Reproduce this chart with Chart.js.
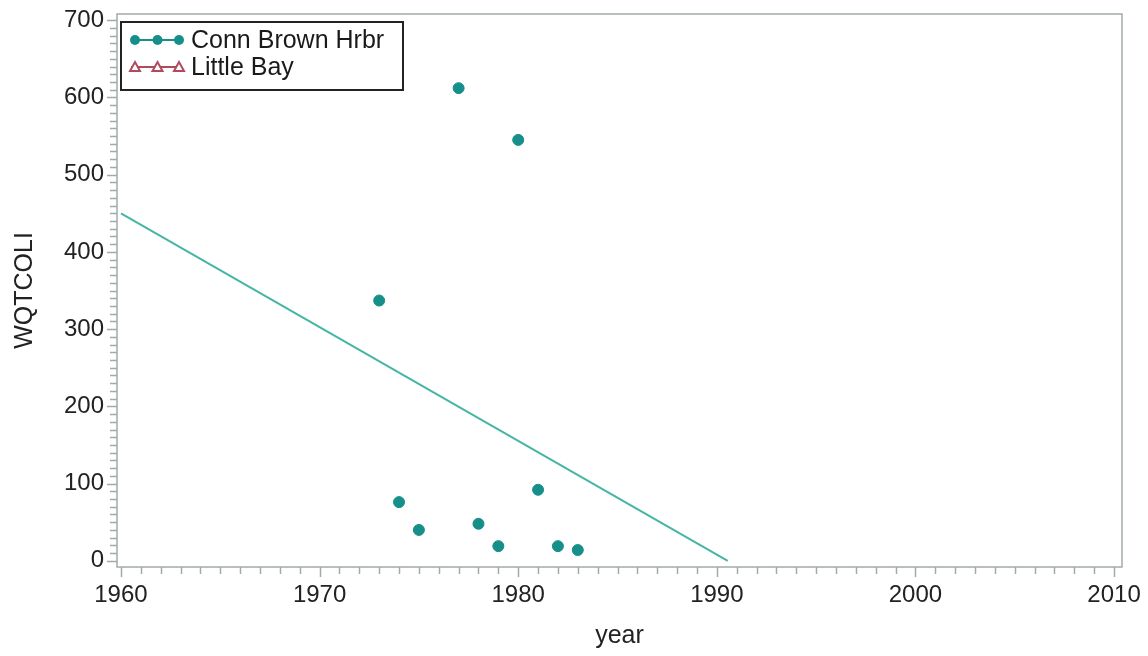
<!DOCTYPE html>
<html><head><meta charset="utf-8">
<script src="https://cdn.jsdelivr.net/npm/chart.js@4/dist/chart.umd.min.js"></script>
<style>html,body{margin:0;padding:0;background:#fff;}#wrap{width:1148px;height:656px;}</style>
</head><body><div id="wrap"><canvas id="c" width="1148" height="656"></canvas></div>
<script>
// ---- data ----
const connBrownYears = [1973, 1974, 1975, 1977, 1978, 1979, 1980, 1981, 1982, 1983];
const connBrownValues = [337, 76, 40, 612, 48, 19, 545, 92, 19, 14];
const littleBayYears = [];
const littleBayValues = [];
const fitYears = [1960, 1990.55];
const fitValues = [450, 0];
const seriesNames = ['Conn Brown Hrbr', 'Little Bay'];
const xMajorTicks = [1960, 1970, 1980, 1990, 2000, 2010];
const yMajorTicks = [0, 100, 200, 300, 400, 500, 600, 700];
const xMinorStep = 1;
const yMinorStep = 10;
const xTitle = 'year';
const yTitle = 'WQTCOLI';

const FONT = "'Liberation Sans', Arial, sans-serif";
const TEAL = '#168f8a';
const FIT = '#45b5a6';
const RED = '#b04a5c';
const AXIS = '#a3aaad';

const toPts = (xs, ys) => xs.map((x, i) => ({x: x, y: ys[i]}));
const noPad = s => { s.paddingTop = 0; s.paddingBottom = 0; s.paddingLeft = 0; s.paddingRight = 0; };

const decorPlugin = {
  id: 'decor',
  afterDraw(chart) {
    const ctx = chart.ctx;
    const a = chart.chartArea;
    const xs = chart.scales.x, ys = chart.scales.y;
    ctx.save();
    // frame
    ctx.strokeStyle = AXIS;
    ctx.lineWidth = 1.5;
    ctx.strokeRect(a.left, a.top, a.right - a.left, a.bottom - a.top);
    // ticks
    ctx.beginPath();
    for (let v = Math.ceil(xs.min); v <= xs.max; v += xMinorStep) {
      const px = Math.round(xs.getPixelForValue(v)) + 0.5;
      const len = xMajorTicks.includes(v) ? 10 : 7;
      ctx.moveTo(px, a.bottom);
      ctx.lineTo(px, a.bottom + len);
    }
    for (let v = Math.ceil(ys.min / yMinorStep) * yMinorStep; v <= ys.max; v += yMinorStep) {
      const py = Math.round(ys.getPixelForValue(v)) + 0.5;
      const len = yMajorTicks.includes(v) ? 10 : 7;
      ctx.moveTo(a.left, py);
      ctx.lineTo(a.left - len, py);
    }
    ctx.lineWidth = 1.5;
    ctx.stroke();

    // legend
    const lx = 121, ly = 22, lw = 282, lh = 68;
    ctx.fillStyle = '#fff';
    ctx.fillRect(lx, ly, lw, lh);
    ctx.strokeStyle = '#222';
    ctx.lineWidth = 2;
    ctx.strokeRect(lx, ly, lw, lh);
    const rows = [
      {name: seriesNames[0], color: TEAL, shape: 'circle', y: 40},
      {name: seriesNames[1], color: RED, shape: 'triangle', y: 67}
    ];
    rows.forEach(r => {
      ctx.strokeStyle = r.color;
      ctx.lineWidth = 2;
      ctx.beginPath();
      ctx.moveTo(131, r.y); ctx.lineTo(182, r.y);
      ctx.stroke();
      [135, 157.5, 179].forEach(mx => {
        ctx.beginPath();
        if (r.shape === 'circle') {
          ctx.fillStyle = r.color;
          ctx.arc(mx, r.y, 5, 0, Math.PI * 2);
          ctx.fill();
        } else {
          ctx.fillStyle = '#fff';
          ctx.moveTo(mx, r.y - 5);
          ctx.lineTo(mx + 5, r.y + 4);
          ctx.lineTo(mx - 5, r.y + 4);
          ctx.closePath();
          ctx.fill();
          ctx.lineWidth = 2;
          ctx.stroke();
        }
      });
      ctx.fillStyle = '#1a1a1a';
      ctx.font = '25px ' + FONT;
      ctx.textBaseline = 'middle';
      ctx.textAlign = 'left';
      ctx.fillText(r.name, 191, r.y + 1);
    });
    ctx.restore();
  }
};

new Chart(document.getElementById('c'), {
  type: 'scatter',
  data: {
    datasets: [
      {
        label: seriesNames[0],
        data: toPts(connBrownYears, connBrownValues),
        backgroundColor: TEAL, borderColor: TEAL,
        pointRadius: 5.5, pointHoverRadius: 5.5, showLine: false, order: 1
      },
      {
        label: 'fit',
        data: toPts(fitYears, fitValues),
        borderColor: FIT, borderWidth: 2, pointRadius: 0, showLine: true, order: 2
      },
      {
        label: seriesNames[1],
        data: toPts(littleBayYears, littleBayValues),
        borderColor: RED, backgroundColor: '#fff', pointStyle: 'triangle', showLine: true
      }
    ]
  },
  options: {
    responsive: false,
    animation: false,
    devicePixelRatio: 1,
    layout: {padding: {left: 0, top: 14, right: 26, bottom: 0}},
    plugins: {legend: {display: false}, tooltip: {enabled: false}},
    scales: {
      x: {
        type: 'linear', min: 1959.8, max: 2010.4,
        grid: {display: false, drawTicks: false},
        border: {display: false},
        afterBuildTicks: s => { s.ticks = xMajorTicks.map(v => ({value: v})); },
        afterFit: s => { s.height = 89; noPad(s); },
        ticks: {
          autoSkip: false, maxRotation: 0, minRotation: 0, padding: 14,
          color: '#222', font: {family: FONT, size: 24},
          callback: v => String(v)
        },
        title: {display: true, text: xTitle, color: '#222', font: {family: FONT, size: 25}, padding: {top: 0, bottom: 5}}
      },
      y: {
        type: 'linear', min: -8, max: 708,
        grid: {display: false, drawTicks: false},
        border: {display: false},
        afterBuildTicks: s => { s.ticks = yMajorTicks.map(v => ({value: v})); },
        afterFit: s => { s.width = 117; noPad(s); },
        ticks: {
          autoSkip: false, padding: 13,
          color: '#222', font: {family: FONT, size: 24},
          callback: v => String(v)
        },
        title: {display: true, text: yTitle, color: '#222', font: {family: FONT, size: 25}, padding: {top: 10, bottom: 0}}
      }
    }
  },
  plugins: [decorPlugin]
});
</script></body></html>
